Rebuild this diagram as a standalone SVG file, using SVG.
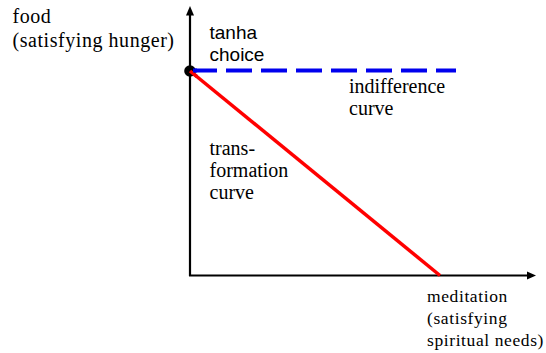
<svg xmlns="http://www.w3.org/2000/svg" width="546" height="353" viewBox="0 0 546 353">
<style>
.cm{font-family:"Liberation Serif","Times New Roman",serif;fill:#000}
.tx{font-family:"Liberation Serif","Times New Roman",serif;font-size:20px;fill:#000}
.sf{font-family:"Liberation Sans",Arial,sans-serif;font-size:19px;fill:#000}
.ax{stroke:#000;stroke-width:2.2;fill:none}
</style>
<rect width="546" height="353" fill="#fff"/>
<g id="connectors">
  <line class="ax" x1="190" y1="276" x2="190" y2="14"/>
  <polygon points="190,6 186,15.5 194,15.5" fill="#000"/>
  <line class="ax" x1="189" y1="275.5" x2="528" y2="275.5"/>
  <polygon points="536,275.5 527,271.5 527,279.5" fill="#000"/>
  <line id="indifference" x1="191" y1="70.5" x2="456" y2="70.5" stroke="#0000ee" stroke-width="4" stroke-dasharray="26 9"/>
  <line id="transformation" x1="190" y1="71" x2="440" y2="275.5" stroke="#ff0000" stroke-width="3.5"/>
</g>
<g id="choice-point">
  <circle cx="190" cy="71" r="5.8" fill="#000"/>
  <line x1="190" y1="71" x2="197" y2="76.7" stroke="#ff0000" stroke-width="3.5"/>
  <line x1="193" y1="70.5" x2="197" y2="70.5" stroke="#0000ee" stroke-width="4"/>
</g>
<g id="label-food">
  <text class="cm" font-size="20" letter-spacing="0.55" x="12.5" y="23">food</text>
  <text class="cm" font-size="20" letter-spacing="0.55" x="12.5" y="47">(satisfying hunger)</text>
</g>
<g id="label-tanha">
  <text class="sf" x="209.5" y="38.5">tanha</text>
  <text class="sf" x="209.5" y="60.5">choice</text>
</g>
<g id="label-indifference">
  <text class="tx" x="349" y="93">indifference</text>
  <text class="tx" x="349" y="115">curve</text>
</g>
<g id="label-transformation">
  <text class="tx" x="209.5" y="155">trans-</text>
  <text class="tx" x="209.5" y="177">formation</text>
  <text class="tx" x="209.5" y="199">curve</text>
</g>
<g id="label-meditation">
  <text class="cm" font-size="17.5" letter-spacing="0.6" x="427" y="302">meditation</text>
  <text class="cm" font-size="17.5" letter-spacing="0.6" x="427" y="324">(satisfying</text>
  <text class="cm" font-size="17.5" letter-spacing="0.6" x="427" y="346">spiritual needs)</text>
</g>
</svg>
